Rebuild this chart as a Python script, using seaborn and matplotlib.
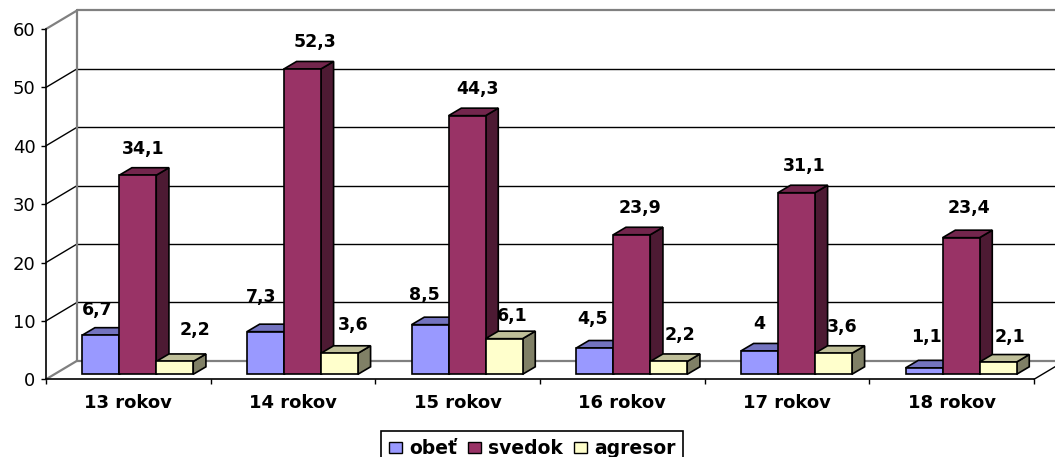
import matplotlib
matplotlib.use("Agg")
import matplotlib.pyplot as plt
import pandas as pd
import seaborn as sns
from matplotlib.patches import Patch, Polygon
from matplotlib.transforms import Affine2D

categories = ["13 rokov", "14 rokov", "15 rokov", "16 rokov", "17 rokov", "18 rokov"]
obet = [6.7, 7.3, 8.5, 4.5, 4.0, 1.1]
svedok = [34.1, 52.3, 44.3, 23.9, 31.1, 23.4]
agresor = [2.2, 3.6, 6.1, 2.2, 3.6, 2.1]
series_names = ["obeť", "svedok", "agresor"]
y_ticks = [0, 10, 20, 30, 40, 50, 60]

# label offsets from the top centre of each bar, in pixels
label_dx = [[-4, -4, -6, -2, 0, 2], [5, 13, 10, 8, 8, 8], [20, 14, 8, 11, 9, 12]]
label_dy = [[25, 35, 30, 29, 27, 31], [26, 27, 27, 27, 27, 30], [31, 28, 23, 26, 26, 25]]

front = ["#9999FF", "#993366", "#FFFFCC"]
top = ["#7373BF", "#73264D", "#BFBF99"]
side = ["#4D4D80", "#4D1A33", "#808066"]
GREY = "#808080"

W, H = 1055, 457
AX_L, AX_R, AX_B, AX_T = 46, 1034, 379.3, 29
sns.set_theme(style="white")
plt.rcParams["font.family"] = ["DejaVu Sans"]
fig = plt.figure(figsize=(W / 100, H / 100), dpi=100, facecolor="white")
ax = fig.add_axes([AX_L / W, (H - AX_B) / H, (AX_R - AX_L) / W, (AX_B - AX_T) / H])

df = pd.DataFrame({
    "vek": categories * 3,
    "seria": sum([[n] * len(categories) for n in series_names], []),
    "hodnota": obet + svedok + agresor,
})
sns.barplot(data=df, x="vek", y="hodnota", hue="seria", order=categories, hue_order=series_names,
            palette=front, saturation=1, width=0.674, gap=0, edgecolor="black", linewidth=1.2,
            legend=False, ax=ax)
ax.set_xlim(-0.5, 5.5)
ax.set_ylim(0, 60)
ax.set_xlabel("")
ax.set_ylabel("")
ax.set_facecolor("none")

px_x = 164.667  # pixels per category
px_y = (AX_B - AX_T) / 60  # pixels per unit

# back wall, floor and oblique lines
wall_dx, wall_dy = 31 / px_x, 18.5 / px_y
for v in y_ticks:
    edge = v in (0, 60)
    color = GREY if edge else "black"
    lw = 1.6 if edge else 1.0
    ax.plot([-0.5, -0.5 + wall_dx], [v, v + wall_dy], color=color, lw=lw, clip_on=False, zorder=1)
    ax.plot([-0.5 + wall_dx, 5.5 + wall_dx], [v + wall_dy, v + wall_dy], color=color, lw=lw,
            clip_on=False, zorder=1)
ax.plot([-0.5 + wall_dx] * 2, [wall_dy, 60 + wall_dy], color=GREY, lw=1.6, clip_on=False, zorder=1)
ax.plot([5.5, 5.5 + wall_dx], [0, wall_dy], color="black", lw=1.0, clip_on=False, zorder=1)

# 3D look of the bars
shift = ax.transData + Affine2D().translate(9.4, 5)
dx, dy = 12.7 / px_x, 7.5 / px_y
for s, container in enumerate(ax.containers):
    for c, bar in enumerate(container):
        x0, w, h = bar.get_x(), bar.get_width(), bar.get_height()
        z = 3 + s
        bar.set_transform(shift)
        bar.set_zorder(z + 0.2)
        bar.set_clip_on(False)
        bar.set_joinstyle("miter")
        ax.add_patch(Polygon([(x0 + w, 0), (x0 + w + dx, dy), (x0 + w + dx, h + dy), (x0 + w, h)],
                             closed=True, facecolor=side[s], edgecolor="black", lw=1.2,
                             transform=shift, zorder=z, clip_on=False, joinstyle="miter"))
        ax.add_patch(Polygon([(x0, h), (x0 + dx, h + dy), (x0 + w + dx, h + dy), (x0 + w, h)],
                             closed=True, facecolor=top[s], edgecolor="black", lw=1.2,
                             transform=shift, zorder=z + 0.1, clip_on=False, joinstyle="miter"))
        ax.annotate(f"{h:g}".replace(".", ","), xy=(x0 + w / 2, h), xycoords=shift,
                    xytext=(label_dx[s][c], label_dy[s][c]), textcoords="offset pixels",
                    ha="center", va="center", fontsize=12.5, fontweight="bold", color="black",
                    zorder=10, annotation_clip=False)

# axes
sns.despine(ax=ax, top=True, right=True)
for name in ("left", "bottom"):
    ax.spines[name].set_color("black")
    ax.spines[name].set_linewidth(1.2)
ax.set_yticks(y_ticks)
ax.tick_params(axis="y", left=True, length=3.6, width=1.0, color="black", pad=4,
               labelsize=13, labelcolor="black")
ax.set_xticks(range(len(categories)))
ax.set_xticklabels(categories, fontweight="bold", fontsize=13, color="black")
ax.tick_params(axis="x", which="major", bottom=False, length=0, pad=10.5)
ax.set_xticks([i - 0.5 for i in range(len(categories) + 1)], minor=True)
ax.tick_params(axis="x", which="minor", bottom=True, length=3.6, width=1.0, color="black")

# legend
handles = [Patch(facecolor=front[i], edgecolor="black", lw=1.0, label=series_names[i]) for i in range(3)]
leg = fig.legend(handles=handles, ncol=3, loc="upper left",
                 bbox_to_anchor=(381 / W, 1 - 431 / H), borderaxespad=0,
                 prop={"weight": "bold", "size": 13.5}, frameon=True, fancybox=False,
                 edgecolor="black", facecolor="white", framealpha=1,
                 handlelength=0.7, handleheight=0.55, handletextpad=0.37, columnspacing=0.59,
                 borderpad=0.42)
leg.get_frame().set_linewidth(1.2)
for t in leg.get_texts():
    t.set_color("black")

fig.savefig("out.png", dpi=100, facecolor="white")
